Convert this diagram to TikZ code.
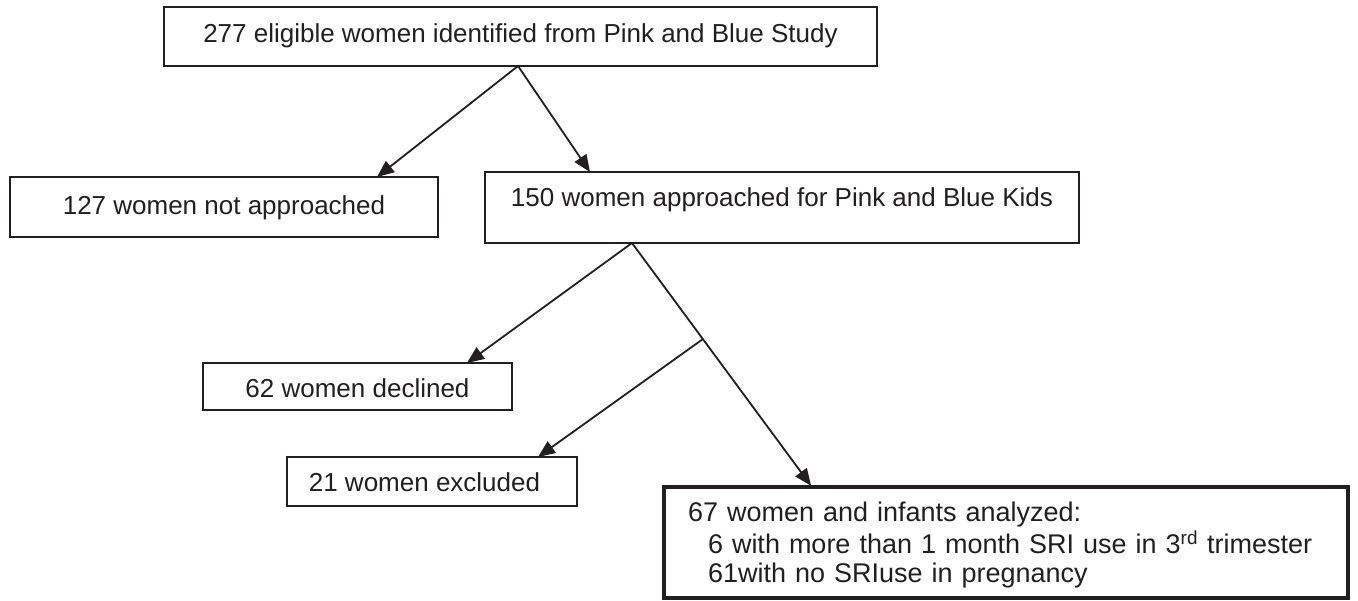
\documentclass[tikz,border=0pt]{standalone}
\usepackage{fontspec}
\setmainfont{Liberation Sans}
\usetikzlibrary{arrows.meta}
\definecolor{ink}{HTML}{231F20}
\begin{document}
\begin{tikzpicture}[x=1pt,y=-1pt,
  box/.style={draw=ink, line width=2pt, inner sep=0pt, outer sep=0pt, anchor=north west,
              text=ink, font=\fontsize{26}{30}\selectfont},
  arr/.style={draw=ink, line width=1.8pt, -{Triangle[length=17pt,width=14pt]}},
]
\useasboundingbox[fill=white] (0,0) rectangle (1358,601);

\node[box, minimum width=713pt, minimum height=59pt, text height=19.5pt, text depth=6.5pt]
  (top) at (164,7) {277 eligible women identified from Pink and Blue Study};
\node[box, minimum width=428pt, minimum height=60pt, text height=21pt, text depth=5pt]
  (b127) at (10,177) {127 women not approached};
\node[box, minimum width=594pt, minimum height=71pt, text height=12.5pt, text depth=13.5pt]
  (b150) at (485,172) {150 women approached for Pink and Blue Kids};
\node[box, minimum width=309pt, minimum height=47pt, text height=24pt, text depth=2pt]
  (b62) at (203,363) {62 women declined};
\node[box, minimum width=290pt, minimum height=49pt, text height=23.5pt, text depth=2.5pt]
  (b21) at (287,457) {\kern-15pt 21 women excluded};
\node[box, line width=4pt, minimum width=684pt, minimum height=111pt, inner xsep=24pt,
      text width=636pt, align=left, font=\fontsize{27}{29.5}\selectfont]
  (b67) at (664,487) {\begin{tabular}{@{}l@{}}
  \rule{0pt}{28.6pt}67 women and infants analyzed:\\
  \hspace*{20pt}6 with more than 1 month SRI use in 3\textsuperscript{rd} trimester\\
  \hspace*{20pt}61with no SRIuse in pregnancy
  \end{tabular}};

% helper x positions
\coordinate (x518) at (518,0);
\coordinate (x377) at (377,0);
\coordinate (x590) at (590,0);
\coordinate (x632) at (632,0);
\coordinate (x467) at (467,0);
\coordinate (x812) at (812,0);
\coordinate (x538) at (538,0);

\coordinate (s1) at (top.south -| x518);
\coordinate (s2) at (b150.south -| x632);
\coordinate (br) at (703,339);

\draw[arr] (s1) -- (b127.north -| x377);
\draw[arr] (s1) -- (b150.north -| x590);
\draw[arr] (s2) -- (b62.north -| x467);
\draw[arr, shorten >=1.5pt] (s2) -- (b67.north -| x812);
\draw[arr] (br) -- (b21.north -| x538);
\end{tikzpicture}
\end{document}
